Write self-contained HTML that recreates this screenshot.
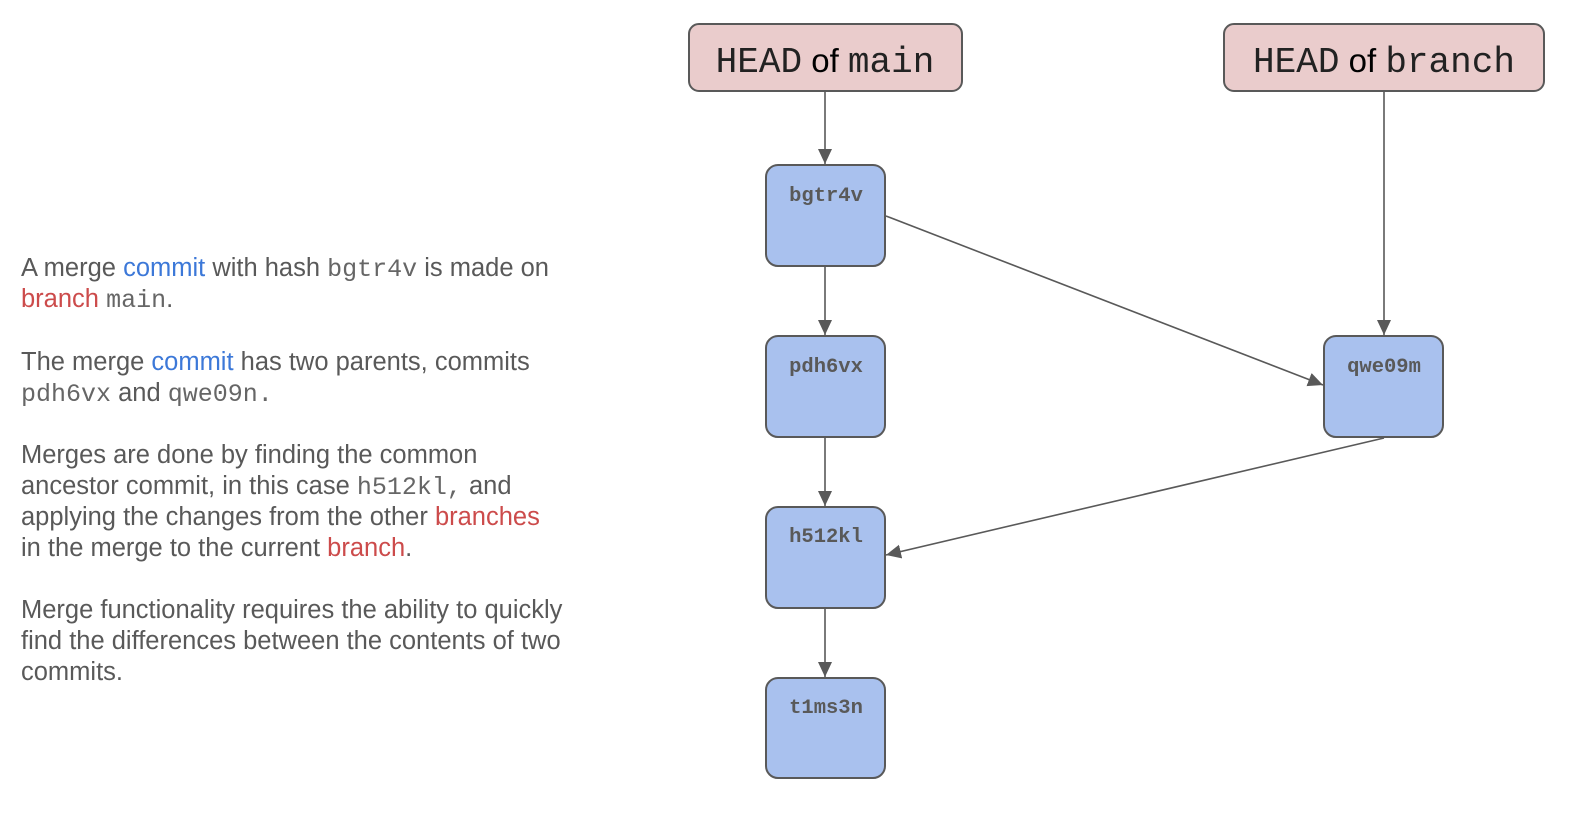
<!DOCTYPE html>
<html><head><meta charset="utf-8"><style>
html,body{margin:0;padding:0;background:#fff;width:1588px;height:820px;overflow:hidden}
</style></head><body>
<svg width="1588" height="820" xmlns="http://www.w3.org/2000/svg">
<defs><marker id="b" markerWidth="16" markerHeight="16" refX="15" refY="7" orient="auto" markerUnits="userSpaceOnUse"><path d="M0,0 L15,7 L0,14 z" fill="#595959"/></marker></defs>
<g font-family="Liberation Sans, sans-serif" font-size="25.5" fill="#595959">
<text x="21" y="276">A merge <tspan fill="#3c78d8">commit</tspan> with hash <tspan font-family="Liberation Mono, monospace" font-size="25" fill="#666">bgtr4v</tspan> is made on</text>
<text x="21" y="307"><tspan fill="#cc4b4b">branch</tspan> <tspan font-family="Liberation Mono, monospace" font-size="25" fill="#666">main</tspan>.</text>
<text x="21" y="370">The merge <tspan fill="#3c78d8">commit</tspan> has two parents, commits</text>
<text x="21" y="401"><tspan font-family="Liberation Mono, monospace" font-size="25" fill="#666">pdh6vx</tspan> and <tspan font-family="Liberation Mono, monospace" font-size="25" fill="#666">qwe09n.</tspan></text>
<text x="21" y="463">Merges are done by finding the common</text>
<text x="21" y="494">ancestor commit, in this case <tspan font-family="Liberation Mono, monospace" font-size="25" fill="#666">h512kl,</tspan> and</text>
<text x="21" y="525">applying the changes from the other <tspan fill="#cc4b4b">branches</tspan></text>
<text x="21" y="556">in the merge to the current <tspan fill="#cc4b4b">branch</tspan>.</text>
<text x="21" y="618">Merge functionality requires the ability to quickly</text>
<text x="21" y="649">find the differences between the contents of two</text>
<text x="21" y="680">commits.</text>
</g>
<g stroke="#595959" stroke-width="2">
<rect x="689" y="24" width="273" height="67" rx="10" fill="#eacccc"/>
<rect x="1224" y="24" width="320" height="67" rx="10" fill="#eacccc"/>
<g fill="#a9c1ee">
<rect x="766" y="165" width="119" height="101" rx="12"/>
<rect x="766" y="336" width="119" height="101" rx="12"/>
<rect x="766" y="507" width="119" height="101" rx="12"/>
<rect x="766" y="678" width="119" height="100" rx="12"/>
<rect x="1324" y="336" width="119" height="101" rx="12"/>
</g>
<g fill="none" stroke-width="1.6">
<line x1="825" y1="92" x2="825" y2="164" marker-end="url(#b)"/>
<line x1="1384" y1="92" x2="1384" y2="335" marker-end="url(#b)"/>
<line x1="825" y1="267" x2="825" y2="335" marker-end="url(#b)"/>
<line x1="825" y1="438" x2="825" y2="506" marker-end="url(#b)"/>
<line x1="825" y1="609" x2="825" y2="677" marker-end="url(#b)"/>
<line x1="886" y1="216" x2="1323" y2="385" marker-end="url(#b)"/>
<line x1="1384" y1="438" x2="886" y2="555" marker-end="url(#b)"/>
</g>
</g>
<g font-size="36" fill="#222">
<text x="825" y="72" text-anchor="middle"><tspan font-family="Liberation Mono, monospace">HEAD</tspan><tspan font-family="Liberation Sans, sans-serif" font-size="33" fill="#000"> of </tspan><tspan font-family="Liberation Mono, monospace">main</tspan></text>
<text x="1384" y="72" text-anchor="middle"><tspan font-family="Liberation Mono, monospace">HEAD</tspan><tspan font-family="Liberation Sans, sans-serif" font-size="33" fill="#000"> of </tspan><tspan font-family="Liberation Mono, monospace">branch</tspan></text>
</g>
<g font-family="Liberation Mono, monospace" font-weight="bold" font-size="20.5" fill="#595959" text-anchor="middle">
<text x="826" y="201">bgtr4v</text>
<text x="826" y="372">pdh6vx</text>
<text x="826" y="542">h512kl</text>
<text x="826" y="713">t1ms3n</text>
<text x="1384" y="372">qwe09m</text>
</g>
</svg>
</body></html>
